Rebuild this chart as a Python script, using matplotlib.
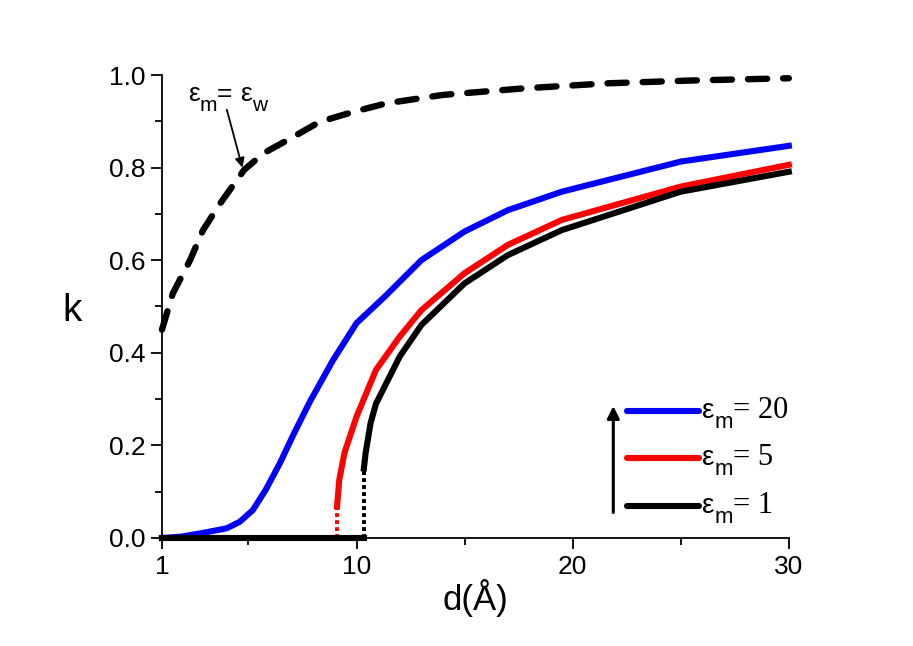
import matplotlib
matplotlib.use("Agg")
import matplotlib.pyplot as plt
import matplotlib.transforms as mtransforms
from matplotlib.ticker import MultipleLocator, FixedLocator, FormatStrFormatter

plt.rcParams["font.family"] = ["Liberation Sans", "DejaVu Sans"]

# eps_m = eps_w (dashed)
d_w = [1.0, 1.5, 2.3, 2.9, 3.7, 4.8, 5.7, 7.1, 8.3, 9.9, 11.4, 14.0, 17.7, 21.6, 25.4, 30.0]
k_w = [0.450, 0.528, 0.600, 0.665, 0.723, 0.795, 0.831, 0.867, 0.899, 0.921, 0.939,
       0.957, 0.971, 0.982, 0.988, 0.993]

# eps_m = 20
d_20 = [1.0, 1.9, 2.9, 4.0, 4.6, 5.2, 5.8, 6.45, 7.1, 7.85, 8.9, 10.0, 11.3, 13.0,
        15.0, 17.0, 19.5, 25.0, 30.0]
k_20 = [0.0, 0.003, 0.011, 0.021, 0.035, 0.060, 0.104, 0.161, 0.225, 0.295, 0.383,
        0.464, 0.521, 0.600, 0.662, 0.708, 0.748, 0.813, 0.847]

# eps_m = 5
d_5 = [1.0, 9.1, 9.1, 9.2, 9.45, 10.0, 10.9, 12.0, 13.0, 15.0, 17.0, 19.5, 25.0, 30.0]
k_5 = [0.0, 0.0, 0.068, 0.125, 0.185, 0.262, 0.363, 0.435, 0.492, 0.572, 0.633,
       0.687, 0.759, 0.806]
d_5_gap = 9.1
k_5_gap = 0.068

# eps_m = 1
d_1 = [1.0, 10.34, 10.34, 10.42, 10.65, 10.9, 12.0, 13.0, 15.0, 17.0, 19.5, 25.0, 30.0]
k_1 = [0.0, 0.0, 0.150, 0.183, 0.248, 0.290, 0.392, 0.460, 0.550, 0.611, 0.665,
       0.748, 0.791]
d_1_gap = 10.34
k_1_gap = 0.150

x_ticks = [1, 10, 20, 30]
x_minor = [5, 15, 25]

fig = plt.figure(figsize=(9.13, 6.46), dpi=100)
ax = fig.add_axes([0.1774, 0.1672, 0.6866, 0.7167])
renderer = fig.canvas.get_renderer()


def chain_text(x, y, pieces, transform):
    """Write text pieces one after another; each piece is (text, size, dy_px, family)."""
    dx = 0.0
    for s, size, dy, fam in pieces:
        tr = mtransforms.offset_copy(transform, fig=fig, x=dx, y=dy, units="dots")
        t = ax.text(x, y, s, transform=tr, fontsize=size, family=fam,
                    ha="left", va="center")
        dx += t.get_window_extent(renderer).width


lw = 4.4
ax.plot(d_w, k_w, color="black", lw=4.6, dashes=(3.0, 2.5),
        dash_capstyle="round", clip_on=False)

# solid parts start above the jump
ax.plot(d_5[2:], k_5[2:], color="red", lw=lw, clip_on=False)
ax.plot(d_1[2:], k_1[2:], color="black", lw=lw, clip_on=False)
ax.plot(d_20, k_20, color="blue", lw=lw, clip_on=False, zorder=3)
ax.plot(d_1[:2], k_1[:2], color="black", lw=lw, clip_on=False, zorder=4)

# dotted jumps
ax.plot([d_5_gap, d_5_gap], [0, k_5_gap], color="red", lw=2.8, ls=(0, (1, 0.8)))
ax.plot([d_1_gap, d_1_gap], [0, k_1_gap], color="black", lw=2.8, ls=(0, (1, 0.8)))

ax.set_xlim(1, 30)
ax.set_ylim(0, 1.0)
ax.xaxis.set_major_locator(FixedLocator(x_ticks))
ax.xaxis.set_minor_locator(FixedLocator(x_minor))
ax.yaxis.set_major_locator(MultipleLocator(0.2))
ax.yaxis.set_minor_locator(MultipleLocator(0.1))
ax.yaxis.set_major_formatter(FormatStrFormatter("%.1f"))

for s in ["top", "right"]:
    ax.spines[s].set_visible(False)
for s in ["left", "bottom"]:
    ax.spines[s].set_linewidth(1.3)
ax.tick_params(which="major", direction="out", length=8, width=1.3,
               labelsize=19, pad=4)
ax.tick_params(which="minor", direction="out", length=5, width=1.3)

ax.set_xlabel("d(Å)", fontsize=25, labelpad=0)
ax.set_ylabel("k", fontsize=28, rotation=0, va="center", ha="center")
ax.yaxis.set_label_coords(-0.144, 0.49)

# annotation for eps_m = eps_w
sans = "Liberation Sans"
chain_text(1.0 + (188 - 162) / 21.55, 0.958,
           [("ε", 19, 0, sans), ("m", 15, -11, sans), ("= ", 19, 0, sans),
            ("ε", 19, 0, sans), ("w", 15, -11, sans)], ax.transData)
ax.annotate("", xy=(4.72, 0.80), xytext=(4.0, 0.925),
            arrowprops=dict(arrowstyle="-|>", color="black", lw=1.3,
                            mutation_scale=14, shrinkA=0, shrinkB=0))

# legend drawn by hand (blue on top)
leg_labels = ["20", "5", "1"]
leg_colors = ["blue", "red", "black"]
leg_y = [0.275, 0.173, 0.07]
for lab, col, yy in zip(leg_labels, leg_colors, leg_y):
    ax.plot([0.742, 0.857], [yy, yy], color=col, lw=lw,
            transform=ax.transAxes, solid_capstyle="round")
    chain_text(0.862, yy, [("ε", 20, 0, sans), ("m", 16, -12, sans),
                           ("= " + lab, 22, 0, "Liberation Serif")], ax.transAxes)
ax.annotate("", xy=(0.72, 0.285), xytext=(0.72, 0.055), xycoords="axes fraction",
            arrowprops=dict(arrowstyle="-|>", color="black", lw=2.2,
                            mutation_scale=18, shrinkA=0, shrinkB=0))

fig.savefig("out.png", dpi=100)
